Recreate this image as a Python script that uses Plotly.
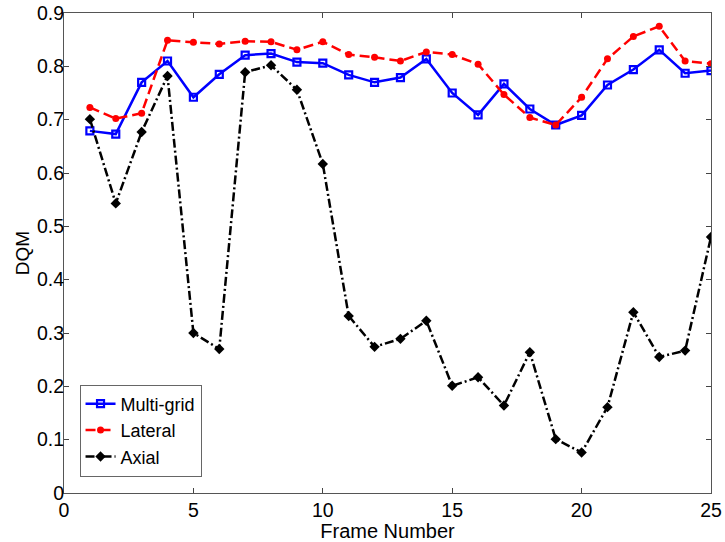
import plotly.graph_objects as go

frames = list(range(1, 26))
multi_grid = [0.679, 0.673, 0.770, 0.810, 0.742, 0.785, 0.821, 0.824, 0.808, 0.806,
              0.784, 0.770, 0.779, 0.814, 0.750, 0.709, 0.767, 0.720, 0.690, 0.708,
              0.765, 0.794, 0.831, 0.787, 0.792]
lateral = [0.723, 0.702, 0.712, 0.849, 0.845, 0.842, 0.847, 0.846, 0.831, 0.846,
           0.822, 0.817, 0.810, 0.827, 0.822, 0.804, 0.747, 0.704, 0.690, 0.742,
           0.814, 0.856, 0.875, 0.810, 0.805]
axial = [0.701, 0.543, 0.677, 0.782, 0.300, 0.270, 0.789, 0.802, 0.756, 0.617,
         0.332, 0.274, 0.289, 0.323, 0.201, 0.217, 0.164, 0.264, 0.101, 0.076,
         0.161, 0.339, 0.255, 0.267, 0.480]

x_ticks = [0, 5, 10, 15, 20, 25]
y_ticks = [0, 0.1, 0.2, 0.3, 0.4, 0.5, 0.6, 0.7, 0.8, 0.9]
y_tick_text = ["0", "0.1", "0.2", "0.3", "0.4", "0.5", "0.6", "0.7", "0.8", "0.9"]

fig = go.Figure()
fig.add_trace(go.Scatter(x=frames, y=multi_grid, name="Multi-grid", mode="lines+markers",
                         line=dict(color="#0000ff", width=2.5, dash="solid"),
                         marker=dict(symbol="square-open", size=7, color="#0000ff",
                                     line=dict(width=2.2, color="#0000ff"))))
fig.add_trace(go.Scatter(x=frames, y=lateral, name="Lateral", mode="lines+markers",
                         line=dict(color="#ff0000", width=2.5, dash="10px,5px"),
                         marker=dict(symbol="circle", size=7, color="#ff0000")))
fig.add_trace(go.Scatter(x=frames, y=axial, name="Axial", mode="lines+markers",
                         line=dict(color="#000000", width=2.5, dash="9px,3px,2px,3px"),
                         marker=dict(symbol="diamond", size=8, color="#000000")))

font_family = "Liberation Sans, Arial, sans-serif"
fig.update_layout(
    width=725, height=542,
    margin=dict(l=64, r=14, t=13, b=49),
    paper_bgcolor="white", plot_bgcolor="white",
    font=dict(family=font_family, size=19, color="#000000"),
    showlegend=True,
    legend=dict(x=0.024, y=0.226, xanchor="left", yanchor="top",
                bgcolor="white", bordercolor="#666666", borderwidth=1,
                font=dict(size=18), tracegroupgap=0, itemwidth=30),
    xaxis=dict(range=[0, 25], tickvals=x_ticks, ticks="inside", ticklen=5,
               showline=True, linecolor="#555555", linewidth=1, mirror="ticks",
               showgrid=False, zeroline=False, tickfont=dict(size=19.5),
               automargin=False,
               title=dict(text="Frame Number", standoff=5, font=dict(size=20))),
    yaxis=dict(range=[0, 0.9], tickvals=y_ticks, ticktext=y_tick_text,
               ticks="inside", ticklen=5, ticklabelstandoff=-5,
               showline=True, linecolor="#555555", linewidth=1, mirror="ticks",
               showgrid=False, zeroline=False, tickfont=dict(size=19.5),
               automargin=False,
               title=dict(text="DQM", standoff=2, font=dict(size=19))),
)

fig.write_html(
    "out.html",
    config={"displayModeBar": False},
    post_script="document.body.style.margin='0';document.body.style.overflow='hidden';",
)
